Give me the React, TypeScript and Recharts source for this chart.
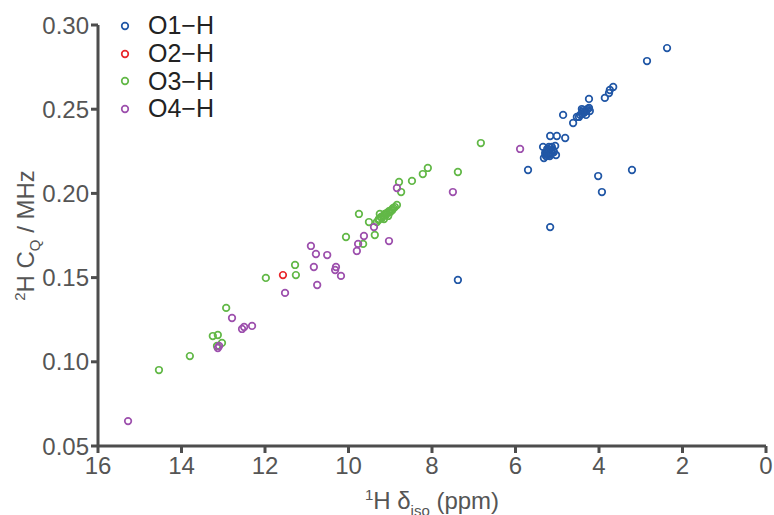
import React from "react";
import { ScatterChart, Scatter, XAxis, YAxis, Legend } from "recharts";

// [1H delta_iso (ppm), 2H CQ (MHz)]
const o1H: [number, number][] = [
  [2.37, 0.2863], [2.85, 0.2786], [3.66, 0.2632], [3.74, 0.2614], [3.76, 0.2596],
  [3.86, 0.2567], [4.24, 0.2561], [4.41, 0.2501], [4.53, 0.2454], [4.62, 0.2418],
  [4.86, 0.2466], [4.81, 0.2329], [5.01, 0.2341], [5.17, 0.2341], [5.34, 0.2276],
  [4.48, 0.2454], [4.41, 0.2472], [4.34, 0.2484], [4.29, 0.2495], [4.24, 0.2507],
  [4.38, 0.2495], [4.31, 0.2466], [4.22, 0.2489], [4.36, 0.2478], [4.27, 0.2502],
  [4.32, 0.249], [4.4, 0.2484], [4.45, 0.2466],
  [5.32, 0.221], [5.27, 0.2222], [5.22, 0.2228], [5.17, 0.2234], [5.29, 0.224],
  [5.15, 0.2246], [5.2, 0.2258], [5.1, 0.2258], [5.13, 0.2276], [5.05, 0.2282],
  [5.2, 0.2276], [5.03, 0.2228], [5.25, 0.2246], [5.18, 0.2222], [5.12, 0.224],
  [5.24, 0.2264], [5.16, 0.227], [5.08, 0.2246], [5.28, 0.223],
  [5.7, 0.2139], [3.21, 0.2139], [4.02, 0.2103], [3.93, 0.2008], [5.17, 0.180],
  [7.38, 0.1486],
];

const o2H: [number, number][] = [[11.57, 0.1515]];

const o3H: [number, number][] = [
  [6.83, 0.2299], [7.38, 0.2127], [8.1, 0.2151], [8.22, 0.2115], [8.48, 0.2074],
  [8.79, 0.2068], [8.74, 0.2008], [8.84, 0.1931],
  [9.32, 0.183], [9.27, 0.1848], [9.22, 0.186], [9.17, 0.1866], [9.13, 0.1878],
  [9.08, 0.1884], [9.03, 0.1895], [8.98, 0.1901], [8.93, 0.1913], [8.89, 0.1919],
  [9.25, 0.1878], [9.15, 0.1848], [9.2, 0.1854], [9.1, 0.1872], [9.0, 0.1889],
  [8.95, 0.1901], [9.28, 0.1842], [9.05, 0.1866],
  [9.75, 0.1878], [9.51, 0.183], [9.37, 0.1753], [10.06, 0.1741], [9.65, 0.170],
  [11.28, 0.1575], [11.26, 0.1515], [11.98, 0.1498], [12.93, 0.132], [13.25, 0.1153],
  [13.13, 0.1159], [13.03, 0.1112], [13.15, 0.1094], [13.8, 0.1034], [14.54, 0.0951],
];

const o4H: [number, number][] = [
  [5.89, 0.2264], [7.5, 0.2008], [8.84, 0.2032], [9.39, 0.180], [9.63, 0.1747],
  [9.03, 0.1717], [9.77, 0.170], [9.8, 0.1658], [10.9, 0.1688], [10.78, 0.164],
  [10.51, 0.1634], [10.83, 0.1563], [10.3, 0.1563], [10.32, 0.1545], [10.18, 0.151],
  [10.75, 0.1456], [11.52, 0.1409], [12.79, 0.126], [12.5, 0.1207], [12.55, 0.1195],
  [12.31, 0.1213], [13.1, 0.1094], [13.13, 0.1082], [15.28, 0.0648],
];

const xTicks = [0, 2, 4, 6, 8, 10, 12, 14, 16];
const yTicks = [0.05, 0.1, 0.15, 0.2, 0.25, 0.3];

const series = [
  { name: "O1\u2212H", data: o1H, color: "#2157a6" },
  { name: "O2\u2212H", data: o2H, color: "#e8262b" },
  { name: "O3\u2212H", data: o3H, color: "#62b847" },
  { name: "O4\u2212H", data: o4H, color: "#9d50ad" },
];

const FONT = "'Liberation Sans', Arial, Helvetica, sans-serif";
const AXIS = "#4d4d4d";
const TEXT = "#555555";

const ring = (color: string) => (props: any) =>
  <circle cx={props.cx} cy={props.cy} r={3.3} fill="none" stroke={color} strokeWidth={1.7} />;

const toPoints = (d: [number, number][]) => d.map(([x, y]) => ({ x, y }));

const LegendBox = () => (
  <div style={{ fontFamily: FONT, fontSize: 25, color: "#222" }}>
    {series.map((s) => (
      <div key={s.name} style={{ display: "flex", alignItems: "center", height: 27.7 }}>
        <svg width={20} height={20} style={{ marginRight: 13 }}>
          <circle cx={10} cy={10} r={3.3} fill="none" stroke={s.color} strokeWidth={1.7} />
        </svg>
        <span>{s.name}</span>
      </div>
    ))}
  </div>
);

const XTitle = (props: any) => {
  const vb = props.viewBox;
  return (
    <text x={vb.x + vb.width / 2} y={vb.y + 63} textAnchor="middle" fill={TEXT}
      fontFamily={FONT} fontSize={24}>
      <tspan fontSize={15} dy={-9}>1</tspan>
      <tspan dy={9}>H δ</tspan>
      <tspan fontSize={15} dy={7}>iso</tspan>
      <tspan dy={-7}> (ppm)</tspan>
    </text>
  );
};

const YTitle = (props: any) => {
  const vb = props.viewBox;
  const cx = 34;
  const cy = vb.y + vb.height / 2;
  return (
    <text x={cx} y={cy} textAnchor="middle" fill={TEXT} fontFamily={FONT} fontSize={24}
      transform={`rotate(-90 ${cx} ${cy})`}>
      <tspan fontSize={15} dy={-9}>2</tspan>
      <tspan dy={9}>H C</tspan>
      <tspan fontSize={15} dy={6}>Q</tspan>
      <tspan dy={-6}> / MHz</tspan>
    </text>
  );
};

export default function App() {
  return (
    <div style={{ position: "absolute", left: 0, top: 0, background: "#fff" }}>
      <ScatterChart width={774} height={515} margin={{ top: 25, right: 8, bottom: 0, left: 0 }}>
        <XAxis
          type="number"
          dataKey="x"
          domain={[0, 16]}
          ticks={xTicks}
          reversed
          height={69}
          axisLine={{ stroke: AXIS, strokeWidth: 3 }}
          tickLine={{ stroke: AXIS, strokeWidth: 3 }}
          tickSize={7}
          tickMargin={4}
          tick={{ fill: TEXT, fontSize: 24, fontFamily: FONT }}
          label={<XTitle />}
        />
        <YAxis
          type="number"
          dataKey="y"
          domain={[0.05, 0.3]}
          ticks={yTicks}
          width={98}
          axisLine={{ stroke: AXIS, strokeWidth: 3 }}
          tickLine={{ stroke: AXIS, strokeWidth: 3 }}
          tickSize={7}
          tickMargin={2}
          tickFormatter={(v: number) => v.toFixed(2)}
          tick={{ fill: TEXT, fontSize: 24, fontFamily: FONT }}
          label={<YTitle />}
        />
        <Legend
          layout="horizontal"
          align="center"
          verticalAlign="middle"
          content={<LegendBox />}
          wrapperStyle={{ position: "absolute", left: 115, top: 12, width: 150 }}
        />
        {series.map((s) => (
          <Scatter key={s.name} name={s.name} data={toPoints(s.data)} shape={ring(s.color)}
            isAnimationActive={false} />
        ))}
      </ScatterChart>
    </div>
  );
}
